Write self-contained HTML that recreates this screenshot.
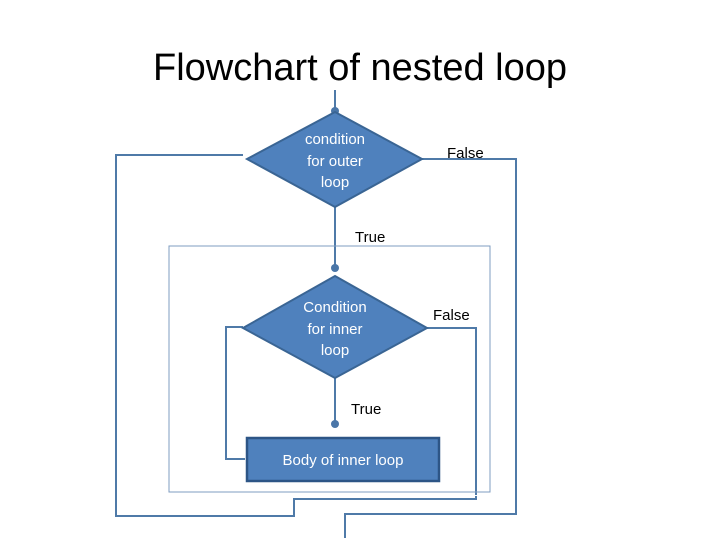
<!DOCTYPE html>
<html><head><style>
body{margin:0;background:#fff;}
svg{display:block;}
</style></head><body>
<svg width="720" height="540" viewBox="0 0 720 540" xmlns="http://www.w3.org/2000/svg">
<defs><marker id="a" markerWidth="6" markerHeight="6" refX="3" refY="3" orient="auto"><circle cx="3" cy="3" r="2" fill="#4a76a8"/></marker></defs>
<text x="360" y="80" font-family="Liberation Sans, sans-serif" font-size="38" text-anchor="middle" fill="#000">Flowchart of nested loop</text>
<g fill="none" stroke="#4f7aa8" stroke-width="2">
<polyline points="335,90 335,111" marker-end="url(#a)"/>
<polyline points="243,155 116,155 116,516 294,516 294,499 476,499 476,496"/>
<polyline points="422,159 516,159 516,514 345,514 345,538"/>
<polyline points="335,207 335,268" marker-end="url(#a)"/>
<polyline points="427,328 476,328 476,495"/>
<polyline points="243,327 226,327 226,459 245,459"/>
<polyline points="335,378 335,424" marker-end="url(#a)"/>
</g>
<rect x="169" y="246" width="321" height="246" fill="none" stroke="#7f9cc0" stroke-width="1"/>
<polygon points="335,112 422,159 335,207 247,159" fill="#4f81bd" stroke="#3a6594" stroke-width="2"/>
<polygon points="335,276 427,328 335,378 243,328" fill="#4f81bd" stroke="#3a6594" stroke-width="2"/>
<rect x="247" y="438" width="192" height="43" fill="#4f81bd" stroke="#2d5586" stroke-width="2.5"/>
<g font-family="Liberation Sans, sans-serif" font-size="15" fill="#fff" text-anchor="middle">
<text x="335" y="144">condition</text><text x="335" y="166">for outer</text><text x="335" y="187">loop</text>
<text x="335" y="312">Condition</text><text x="335" y="334">for inner</text><text x="335" y="355">loop</text>
<text x="343" y="465">Body of inner loop</text>
</g>
<g font-family="Liberation Sans, sans-serif" font-size="15" fill="#000">
<text x="447" y="158">False</text><text x="355" y="242">True</text>
<text x="433" y="320">False</text><text x="351" y="414">True</text>
</g>
</svg>
</body></html>
